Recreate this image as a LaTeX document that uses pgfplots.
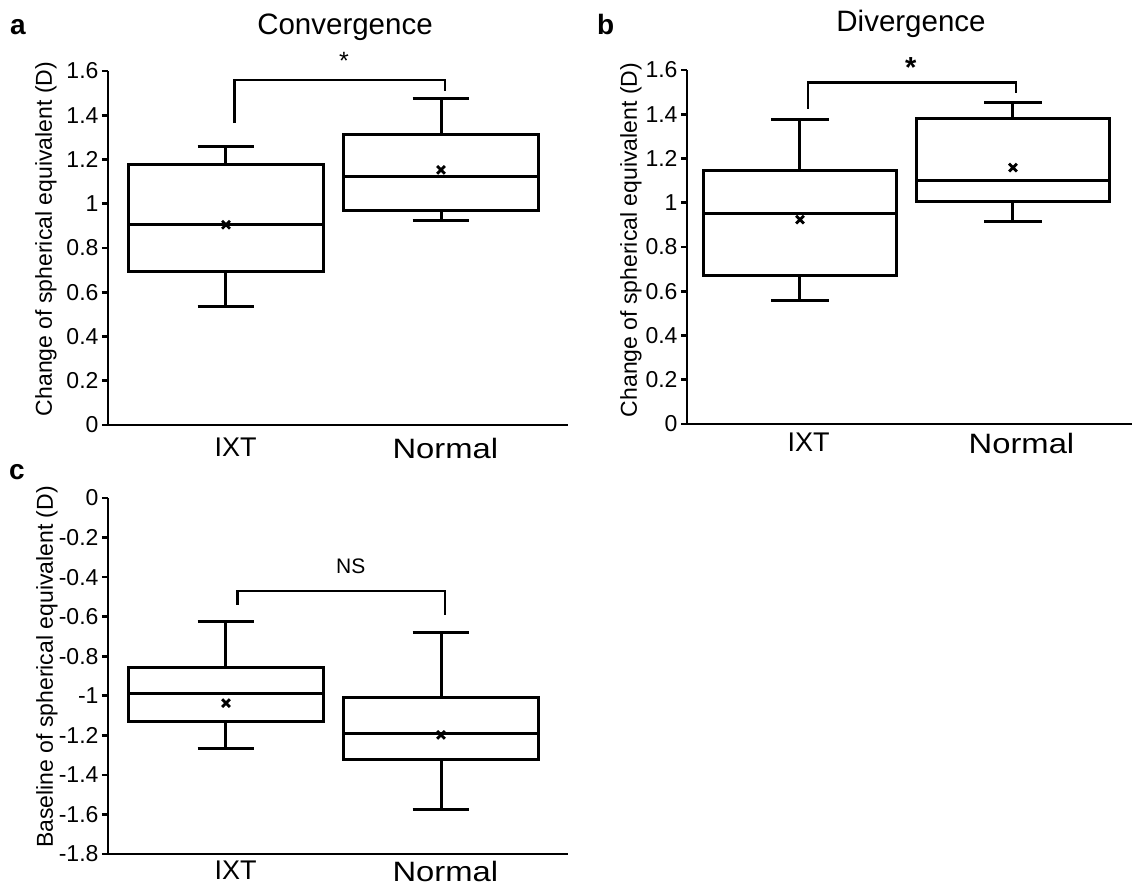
\documentclass[border=0pt]{standalone}
\usepackage{fontspec}
\setmainfont{Liberation Sans}
\usepackage{graphicx}
\usepackage{pgfplots}
\pgfplotsset{compat=1.18}
\usepgfplotslibrary{statistics}

\newcommand{\NormalLbl}{\scalebox{1.17}[1]{\fontsize{28}{30}\selectfont Normal}}

\pgfplotsset{
  panel/.style={
    scale only axis, anchor=south west,
    axis x line*=bottom, axis y line*=left,
    axis line style={line width=2.8pt, black},
    clip=false,
    boxplot/draw direction=y,
    boxplot/every box/.style={line width=3pt, black},
    boxplot/every whisker/.style={line width=3pt, black},
    boxplot/every median/.style={line width=3pt, black},
    xtick style={draw=none},
    tick align=outside, major tick length=6pt,
    ytick style={line width=2.6pt, black},
    yticklabel style={font=\fontsize{23}{26}\selectfont},
    xticklabel style={font=\fontsize{27}{30}\selectfont, anchor=north, inner sep=0pt},
    xticklabels={IXT,\NormalLbl},
  },
  bx/.style={black, line width=3pt, solid, mark=none},
  mn/.style={black, only marks, mark=x, mark size=5.5pt, line width=2.8pt},
  br/.style={black, line width=2.3pt, mark=none},
}

\begin{document}
\begin{tikzpicture}
\useasboundingbox (0pt,0pt) rectangle (1132pt,883pt);

% ---------- panel a ----------
\begin{axis}[panel, at={(108pt,458pt)}, width=460pt, height=354pt,
  xmin=0.4512, xmax=2.5907, ymin=0, ymax=1.6,
  xtick={1.045,2.02},
  xticklabel style={yshift=-7pt},
  ytick={0,0.2,0.4,0.6,0.8,1,1.2,1.4,1.6},
  yticklabels={0,0.2,0.4,0.6,0.8,1,1.2,1.4,1.6}]
\addplot+[bx, boxplot prepared={draw position=1, lower whisker=0.534, lower quartile=0.692,
  median=0.908, upper quartile=1.177, upper whisker=1.257, box extend=0.905, whisker extend=0.265}]
  coordinates {};
\addplot+[bx, boxplot prepared={draw position=2, lower whisker=0.926, lower quartile=0.971,
  median=1.123, upper quartile=1.311, upper whisker=1.477, box extend=0.905, whisker extend=0.265}]
  coordinates {};
\addplot[mn] coordinates {(1,0.905) (2,1.153)};
\addplot[br] coordinates {(1.04,1.364) (1.04,1.558) (2.017,1.558) (2.017,1.511)};
\node[anchor=base, font=\fontsize{25}{27}\selectfont] at (axis cs:1.549,1.606) {*};
\end{axis}

% ---------- panel b ----------
\begin{axis}[panel, at={(687pt,459pt)}, width=445pt, height=354pt,
  xmin=0.4695, xmax=2.559, ymin=0, ymax=1.6,
  xtick={1.04,2.04},
  xticklabel style={yshift=-3pt},
  ytick={0,0.2,0.4,0.6,0.8,1,1.2,1.4,1.6},
  yticklabels={0,0.2,0.4,0.6,0.8,1,1.2,1.4,1.6}]
\addplot+[bx, boxplot prepared={draw position=1, lower whisker=0.558, lower quartile=0.670,
  median=0.950, upper quartile=1.145, upper whisker=1.377, box extend=0.91, whisker extend=0.27}]
  coordinates {};
\addplot+[bx, boxplot prepared={draw position=2, lower whisker=0.915, lower quartile=1.005,
  median=1.101, upper quartile=1.383, upper whisker=1.452, box extend=0.91, whisker extend=0.27}]
  coordinates {};
\addplot[mn] coordinates {(1,0.924) (2,1.159)};
\addplot[br] coordinates {(1.036,1.425) (1.036,1.543) (2.014,1.543) (2.014,1.497)};
\node[anchor=base, font=\fontsize{29}{31}\selectfont\bfseries] at (axis cs:1.52,1.566) {*};
\end{axis}

% ---------- panel c ----------
\begin{axis}[panel, at={(108pt,29pt)}, width=460pt, height=356pt,
  xmin=0.4512, xmax=2.5907, ymin=-1.8, ymax=0,
  xtick={1.045,2.02},
  xticklabel style={yshift=-1pt},
  ytick={0,-0.2,-0.4,-0.6,-0.8,-1,-1.2,-1.4,-1.6,-1.8},
  yticklabels={0,-0.2,-0.4,-0.6,-0.8,-1,-1.2,-1.4,-1.6,-1.8}]
\addplot+[bx, boxplot prepared={draw position=1, lower whisker=-1.268, lower quartile=-1.132,
  median=-0.991, upper quartile=-0.856, upper whisker=-0.624, box extend=0.905, whisker extend=0.265}]
  coordinates {};
\addplot+[bx, boxplot prepared={draw position=2, lower whisker=-1.574, lower quartile=-1.320,
  median=-1.193, upper quartile=-1.010, upper whisker=-0.681, box extend=0.905, whisker extend=0.265}]
  coordinates {};
\addplot[mn] coordinates {(1,-1.037) (2,-1.198)};
\addplot[br] coordinates {(1.053,-0.539) (1.053,-0.470) (2.017,-0.470) (2.017,-0.594)};
\node[anchor=base, font=\fontsize{21}{23}\selectfont] at (axis cs:1.58,-0.384) {NS};
\end{axis}

% ---------- titles, panel letters, y labels ----------
\node[anchor=base, font=\fontsize{29.5}{31}\selectfont] at (345pt,848pt) {Convergence};
\node[anchor=base, font=\fontsize{29.5}{31}\selectfont] at (911pt,851pt) {Divergence};
\node[anchor=base west, inner sep=0pt, font=\fontsize{28}{30}\selectfont\bfseries] at (10pt,848pt) {a};
\node[anchor=base west, inner sep=0pt, font=\fontsize{28}{30}\selectfont\bfseries] at (597pt,848pt) {b};
\node[anchor=base west, inner sep=0pt, font=\fontsize{28}{30}\selectfont\bfseries] at (9pt,403pt) {c};
\node[rotate=90, font=\fontsize{23}{25}\selectfont] at (46pt,644pt) {Change of spherical equivalent (D)};
\node[rotate=90, font=\fontsize{23}{25}\selectfont] at (631pt,643pt) {Change of spherical equivalent (D)};
\node[rotate=90, font=\fontsize{23}{25}\selectfont] at (47pt,216pt) {Baseline of spherical equivalent (D)};
\end{tikzpicture}
\end{document}
